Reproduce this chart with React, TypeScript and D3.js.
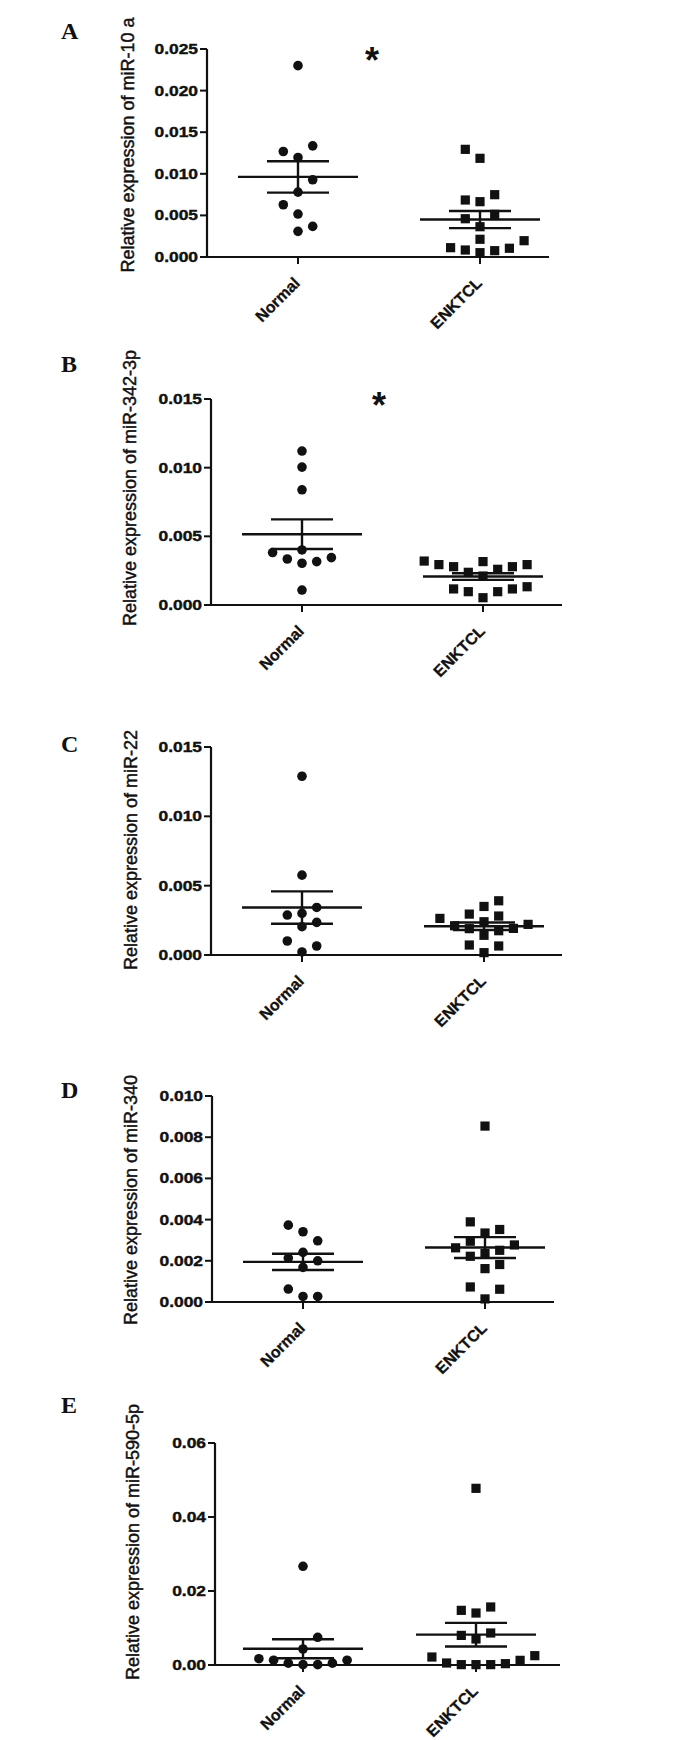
import React from "react";
import * as d3 from "d3";

const groups = ["Normal", "ENKTCL"];

// A: miR-10a
const miR10aNormal = [0.023, 0.01336, 0.01268, 0.01196, 0.00928, 0.0078, 0.00628, 0.00516, 0.00368, 0.00308];
const miR10aENKTCL = [0.01294, 0.01186, 0.00749, 0.00685, 0.00665, 0.00513, 0.0046, 0.00364, 0.00213, 0.00196, 0.00112, 0.00105, 0.00084, 0.00076, 0.00052];
// B: miR-342-3p
const miR342Normal = [0.01121, 0.01004, 0.00839, 0.00401, 0.00382, 0.00345, 0.00335, 0.00316, 0.00304, 0.00109];
const miR342ENKTCL = [0.00316, 0.0032, 0.00294, 0.00294, 0.00279, 0.00279, 0.0026, 0.00238, 0.00211, 0.00133, 0.00117, 0.00117, 0.00097, 0.00097, 0.00053];
// C: miR-22
const miR22Normal = [0.01289, 0.00576, 0.00343, 0.003, 0.00288, 0.00235, 0.00204, 0.00101, 0.00065, 0.00022];
const miR22ENKTCL = [0.00391, 0.0035, 0.00295, 0.00281, 0.00264, 0.0024, 0.00221, 0.00211, 0.00192, 0.0019, 0.00175, 0.00142, 0.00072, 0.00065, 0.00017];
// D: miR-340
const miR340Normal = [0.00373, 0.00341, 0.00297, 0.00241, 0.00213, 0.002, 0.00168, 0.00063, 0.00027, 0.00027];
const miR340ENKTCL = [0.00854, 0.00389, 0.00352, 0.00335, 0.00295, 0.00277, 0.00263, 0.00251, 0.00235, 0.00222, 0.00182, 0.00162, 0.00073, 0.00062, 0.00015];
// E: miR-590-5p
const miR590Normal = [0.02667, 0.00748, 0.00432, 0.0017, 0.0013, 0.0013, 0.0005, 0.0005, 0.0001, 0.0001];
const miR590ENKTCL = [0.04775, 0.01568, 0.01477, 0.01405, 0.00865, 0.008, 0.00703, 0.00252, 0.00216, 0.00126, 0.00054, 0.00036, 0.0001, 0.0001, 0.0001];

const ticksA = [0, 0.005, 0.01, 0.015, 0.02, 0.025];
const ticksB = [0, 0.005, 0.01, 0.015];
const ticksC = [0, 0.005, 0.01, 0.015];
const ticksD = [0, 0.002, 0.004, 0.006, 0.008, 0.01];
const ticksE = [0, 0.02, 0.04, 0.06];

const panels = [
  { letter: "A", title: "Relative expression of miR-10 a", normal: miR10aNormal, enktcl: miR10aENKTCL, ticks: ticksA, fmt: ".3f",
    left: 207, top: 49, bottom: 257, xEnd: 549, x0: 298, x1: 480, letterY: 39, titleX: 128, titleY: 145, star: [372, 53] },
  { letter: "B", title: "Relative expression of miR-342-3p", normal: miR342Normal, enktcl: miR342ENKTCL, ticks: ticksB, fmt: ".3f",
    left: 211, top: 399, bottom: 605, xEnd: 562, x0: 302, x1: 483, letterY: 372, titleX: 130, titleY: 488, star: [379, 398] },
  { letter: "C", title: "Relative expression of miR-22", normal: miR22Normal, enktcl: miR22ENKTCL, ticks: ticksC, fmt: ".3f",
    left: 211, top: 747, bottom: 955, xEnd: 562, x0: 302, x1: 484, letterY: 752, titleX: 131, titleY: 850, star: null },
  { letter: "D", title: "Relative expression of miR-340", normal: miR340Normal, enktcl: miR340ENKTCL, ticks: ticksD, fmt: ".3f",
    left: 212, top: 1096, bottom: 1302, xEnd: 554, x0: 303, x1: 485, letterY: 1098, titleX: 131, titleY: 1200, star: null },
  { letter: "E", title: "Relative expression of miR-590-5p", normal: miR590Normal, enktcl: miR590ENKTCL, ticks: ticksE, fmt: ".2f",
    left: 215, top: 1443, bottom: 1665, xEnd: 560, x0: 303, x1: 476, letterY: 1413, titleX: 133, titleY: 1542, star: null },
];

const INK = "#111";
const SANS = "'Liberation Sans', Arial, sans-serif";

// spread overlapping points sideways like a column scatter
function swarm(values: number[], py: (v: number) => number, gap: number) {
  const order = d3.range(values.length).sort((a, b) => values[a] - values[b]);
  const placed: { s: number; y: number }[] = [];
  const slots: number[] = new Array(values.length);
  let side = 1;
  for (const i of order) {
    const yy = py(values[i]);
    const free = (s: number) => !placed.some((p) => p.s === s && Math.abs(p.y - yy) < gap);
    let s = 0;
    if (!free(0)) {
      for (let k = 1; k < 20; k++) {
        if (free(side * k)) { s = side * k; break; }
        if (free(-side * k)) { s = -side * k; break; }
      }
      side = -Math.sign(s);
    }
    placed.push({ s, y: yy });
    slots[i] = s;
  }
  return slots;
}

function Panel({ p }: { p: any }) {
  const y = d3.scaleLinear().domain([0, p.ticks[p.ticks.length - 1]]).range([p.bottom, p.top]);
  const x = d3.scalePoint<string>().domain(groups).range([p.x0, p.x1]);
  const fmt = d3.format(p.fmt);
  const sets: number[][] = [p.normal, p.enktcl];
  const step = 14.7;

  return (
    <g>
      <text x={61} y={p.letterY} fontFamily="'Liberation Serif', 'Times New Roman', serif" fontWeight="bold" fontSize={24} fill={INK}>
        {p.letter}
      </text>
      <text transform={`translate(${p.titleX},${p.titleY}) rotate(-90)`} textAnchor="middle" dominantBaseline="central"
        fontFamily={SANS} fontSize={18} fill={INK} stroke={INK} strokeWidth={0.45}>
        {p.title}
      </text>

      {/* axes */}
      <line x1={p.left} x2={p.left} y1={p.top} y2={p.bottom} stroke={INK} strokeWidth={2.2} />
      <line x1={p.left - 1} x2={p.xEnd} y1={p.bottom} y2={p.bottom} stroke={INK} strokeWidth={2.2} />
      {p.ticks.map((t: number) => (
        <g key={t}>
          <line x1={p.left - 7} x2={p.left} y1={y(t)} y2={y(t)} stroke={INK} strokeWidth={2} />
          <text transform={`translate(${p.left - 9},${y(t) + 5}) scale(1.2,1)`} textAnchor="end"
            fontFamily={SANS} fontWeight="bold" fontSize={14.5} fill={INK} stroke={INK} strokeWidth={0.4}>
            {fmt(t)}
          </text>
        </g>
      ))}
      {groups.map((g) => (
        <g key={g}>
          <line x1={x(g)} x2={x(g)} y1={p.bottom} y2={p.bottom + 7} stroke={INK} strokeWidth={2} />
          <text transform={`translate(${(x(g) as number) + 3},${p.bottom + 27}) rotate(-45)`} textAnchor="end"
            fontFamily={SANS} fontWeight="bold" fontSize={16} fill={INK} stroke={INK} strokeWidth={0.3}>
            {g}
          </text>
        </g>
      ))}

      {/* points */}
      {sets.map((vals, gi) => {
        const cx = x(groups[gi]) as number;
        const slots = swarm(vals, (v) => y(v), 12.5);
        return vals.map((v, i) =>
          gi === 0 ? (
            <circle key={`${gi}-${i}`} cx={cx + slots[i] * step} cy={y(v)} r={4.8} fill={INK} />
          ) : (
            <rect key={`${gi}-${i}`} x={cx + slots[i] * step - 4.6} y={y(v) - 4.6} width={9.2} height={9.2} fill={INK} />
          )
        );
      })}

      {/* mean +/- SEM */}
      {sets.map((vals, gi) => {
        const cx = x(groups[gi]) as number;
        const m = d3.mean(vals) as number;
        const sem = (d3.deviation(vals) as number) / Math.sqrt(vals.length);
        return (
          <g key={`m${gi}`} stroke={INK} strokeWidth={2.4}>
            <line x1={cx - 60} x2={cx + 60} y1={y(m)} y2={y(m)} />
            <line x1={cx - 31} x2={cx + 31} y1={y(m + sem)} y2={y(m + sem)} />
            <line x1={cx - 31} x2={cx + 31} y1={y(m - sem)} y2={y(m - sem)} />
            <line x1={cx} x2={cx} y1={y(m + sem)} y2={y(m - sem)} />
          </g>
        );
      })}

      {p.star && (
        <text x={p.star[0]} y={p.star[1] + 20} textAnchor="middle" fontFamily={SANS} fontWeight="bold" fontSize={36} fill={INK}>
          *
        </text>
      )}
    </g>
  );
}

export default function App() {
  return (
    <svg width={688} height={1740} style={{ position: "absolute", left: 0, top: 0, background: "#fff" }}>
      <rect width={688} height={1740} fill="#fff" />
      {panels.map((p) => (
        <Panel key={p.letter} p={p} />
      ))}
    </svg>
  );
}
